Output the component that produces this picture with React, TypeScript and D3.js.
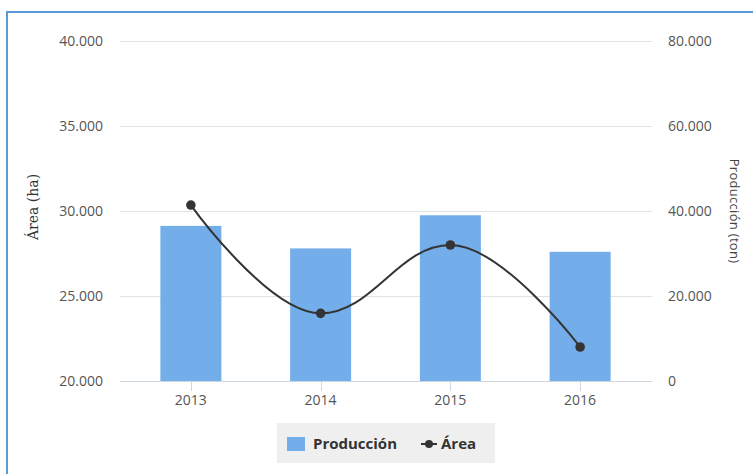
import React from "react";
import * as d3 from "d3";

const years = ["2013", "2014", "2015", "2016"];
const produccion = [36500, 31200, 39000, 30400];
const area = [30350, 23980, 28000, 22000];
const leftTicks = [20000, 25000, 30000, 35000, 40000];
const rightTicks = [0, 20000, 40000, 60000, 80000];

const W = 753;
const H = 474;
const plotTop = 41;
const plotBottom = 381;
const gridLeft = 120;
const gridRight = 652;

const fmt = (v: number) => (v === 0 ? "0" : d3.format(",")(v).replace(/,/g, "."));

function splinePath(pts: { x: number; y: number }[]) {
  const p = d3.path();
  const rc: { x: number; y: number }[] = [];
  pts.forEach((pt, i) => {
    if (i === 0) {
      p.moveTo(pt.x, pt.y);
      rc[i] = { x: pt.x, y: pt.y };
      return;
    }
    const prev = pts[i - 1];
    const next = pts[i + 1];
    let lx = pt.x, ly = pt.y;
    if (next) {
      const s = 1.5, den = s + 1;
      lx = (s * pt.x + prev.x) / den;
      ly = (s * pt.y + prev.y) / den;
      const rx = (s * pt.x + next.x) / den;
      let ry = (s * pt.y + next.y) / den;
      let corr = 0;
      if (rx !== lx) corr = ((ry - ly) * (rx - pt.x)) / (rx - lx) + pt.y - ry;
      ly += corr;
      ry += corr;
      if (ly > prev.y && ly > pt.y) {
        ly = Math.max(prev.y, pt.y);
        ry = 2 * pt.y - ly;
      } else if (ly < prev.y && ly < pt.y) {
        ly = Math.min(prev.y, pt.y);
        ry = 2 * pt.y - ly;
      }
      if (ry > next.y && ry > pt.y) {
        ry = Math.max(next.y, pt.y);
        ly = 2 * pt.y - ry;
      } else if (ry < next.y && ry < pt.y) {
        ry = Math.min(next.y, pt.y);
        ly = 2 * pt.y - ry;
      }
      rc[i] = { x: rx, y: ry };
    }
    p.bezierCurveTo(rc[i - 1].x, rc[i - 1].y, lx, ly, pt.x, pt.y);
  });
  return p.toString();
}

export default function App() {
  const x = d3.scaleBand<string>().domain(years).range([126, 645]);
  const yL = d3.scaleLinear().domain([20000, 40000]).range([plotBottom, plotTop]);
  const yR = d3.scaleLinear().domain([0, 80000]).range([plotBottom, plotTop]);
  const barW = 61;
  const barColor = "#74aeea";
  const lineColor = "#343434";
  const cx = (y: string) => (x(y) as number) + x.bandwidth() / 2;
  const pts = years.map((y, i) => ({ x: cx(y), y: yL(area[i]) }));
  const font = "'Open Sans', 'Noto Sans', sans-serif";

  return (
    <svg width={W} height={H} style={{ position: "absolute", left: 0, top: 0, background: "#fff" }}>
      <rect x={0} y={0} width={W} height={H} fill="#fff" />
      <line x1={6} y1={12} x2={W} y2={12} stroke="#5b9bd5" strokeWidth={2} />
      <line x1={7} y1={11} x2={7} y2={H} stroke="#5b9bd5" strokeWidth={2} />
      {leftTicks.map((t) => (
        <g key={t}>
          {t !== 20000 && (
            <line x1={gridLeft} x2={gridRight} y1={Math.round(yL(t)) + 0.5} y2={Math.round(yL(t)) + 0.5} stroke="#e2e2e2" />
          )}
          <text x={103} y={yL(t) + 5} textAnchor="end" fontFamily={font} fontSize={14} fill="#555">
            {fmt(t)}
          </text>
        </g>
      ))}
      {rightTicks.map((t) => (
        <text key={t} x={668} y={yR(t) + 5} textAnchor="start" fontFamily={font} fontSize={14} fill="#555">
          {fmt(t)}
        </text>
      ))}
      {years.map((y, i) => (
        <rect key={y} x={cx(y) - barW / 2} y={yR(produccion[i])} width={barW} height={plotBottom - yR(produccion[i])} fill={barColor} />
      ))}
      <line x1={gridLeft} x2={gridRight} y1={plotBottom + 0.5} y2={plotBottom + 0.5} stroke="#ccd6e0" />
      {years.map((y) => (
        <g key={y}>
          <line x1={Math.round(cx(y)) + 0.5} x2={Math.round(cx(y)) + 0.5} y1={plotBottom} y2={plotBottom + 10} stroke="#ccd6e0" />
          <text x={cx(y)} y={405} textAnchor="middle" fontFamily={font} fontSize={14} fill="#555">
            {y}
          </text>
        </g>
      ))}
      <path d={splinePath(pts)} fill="none" stroke={lineColor} strokeWidth={2} />
      {pts.map((p, i) => (
        <circle key={i} cx={p.x} cy={p.y} r={4.8} fill={lineColor} />
      ))}
      <text
        transform={`translate(38, ${(plotTop + plotBottom) / 2 - 4}) rotate(-90)`}
        textAnchor="middle"
        fontFamily="'DejaVu Serif', serif"
        fontSize={14}
        fill="#333"
      >
        Área (ha)
      </text>
      <text
        transform={`translate(730, ${(plotTop + plotBottom) / 2}) rotate(90)`}
        textAnchor="middle"
        fontFamily={font}
        fontSize={13}
        fill="#444"
        letterSpacing={0.3}
      >
        Producción (ton)
      </text>
      <g>
        <rect x={277} y={423} width={218} height={40} fill="#efefef" />
        <rect x={287} y={437} width={18} height={14} fill={barColor} />
        <text x={313} y={449} fontFamily={font} fontSize={15} fontWeight="bold" fill="#333">
          Producción
        </text>
        <line x1={421} x2={437} y1={444} y2={444} stroke={lineColor} strokeWidth={2} />
        <circle cx={429} cy={444} r={4} fill={lineColor} />
        <text x={441} y={449} fontFamily={font} fontSize={15} fontWeight="bold" fill="#333">
          Área
        </text>
      </g>
    </svg>
  );
}
